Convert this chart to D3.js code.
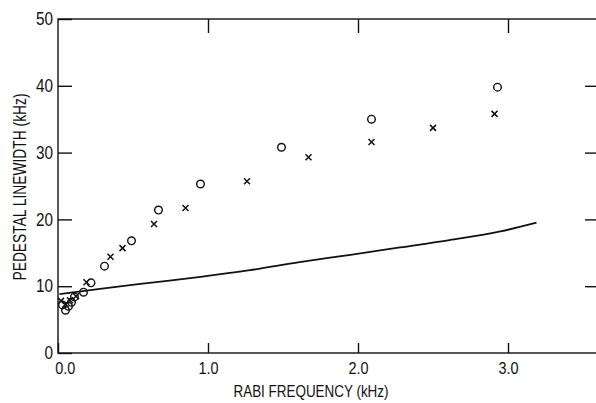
<!DOCTYPE html>
<html lang="en">
<head>
    <meta charset="UTF-8">
    <title>Pedestal linewidth vs Rabi frequency</title>
    <script src="https://cdn.jsdelivr.net/npm/d3@7"></script>
    <style>
        body { margin: 0; background: #fff; }
        text { font-family: "Liberation Sans", Arial, sans-serif; fill: #111; }
        .tick line { stroke: #111; stroke-width: 1.4; }
    </style>
</head>
<body>
    <svg id="svg" width="596" height="403"></svg>
    <script>
        // measured data (kHz)
        const circleX = [2.93, 2.09, 1.49, 0.95, 0.67, 0.49, 0.31, 0.22, 0.17, 0.11, 0.09, 0.07, 0.05, 0.03]
        const circleY = [39.8, 35.0, 30.8, 25.3, 21.4, 16.8, 13.0, 10.5, 9.1, 8.4, 7.6, 7.0, 6.4, 7.2]
        const crossX = [2.91, 2.50, 2.09, 1.67, 1.26, 0.85, 0.64, 0.43, 0.35, 0.19, 0.12, 0.08, 0.05, 0.02]
        const crossY = [35.8, 33.7, 31.6, 29.3, 25.7, 21.7, 19.3, 15.7, 14.4, 10.6, 8.5, 7.9, 7.3, 7.8]
        const theoryX = [0.01, 0.28, 0.61, 0.95, 1.28, 1.61, 1.95, 2.28, 2.61, 2.95, 3.19]
        const theoryY = [8.8, 9.6, 10.5, 11.4, 12.4, 13.6, 14.7, 15.8, 16.9, 18.2, 19.5]
        const xTicks = [0, 1, 2, 3]
        const yTicks = [0, 10, 20, 30, 40, 50]

        const svg = d3.select("#svg")
        const mLeft = 58, mTop = 19, mBottom = 353, mRight = 598

        const xScale = d3.scaleLinear().domain([0, 3.6]).range([mLeft, mRight])
        const yScale = d3.scaleLinear().domain([0, 50]).range([mBottom, mTop])

        // frame
        svg.append("rect")
            .attr("x", mLeft).attr("y", mTop)
            .attr("width", mRight - mLeft).attr("height", mBottom - mTop)
            .attr("fill", "none").attr("stroke", "#111").attr("stroke-width", 1.4)

        const xAxis = d3.axisBottom(xScale).tickValues(xTicks).tickFormat(d3.format(".1f"))
            .tickSizeInner(-10).tickSizeOuter(0).tickPadding(8)
        svg.append("g").attr("transform", `translate(0,${mBottom})`).call(xAxis)
            .call(g => g.selectAll("text").attr("font-size", 17).attr("y", 9)
                .attr("transform", "scale(0.85,1)"))
            .call(g => g.selectAll(".tick").filter(d => d === 0).select("text").attr("dx", 8))

        const yAxis = d3.axisLeft(yScale).tickValues(yTicks)
            .tickSizeInner(-14).tickSizeOuter(0).tickPadding(6)
        svg.append("g").attr("transform", `translate(${mLeft},0)`).call(yAxis)
            .call(g => g.selectAll("text").attr("font-size", 18).attr("transform", "scale(0.85,1)"))

        svg.append("g").attr("transform", `translate(0,${mTop})`)
            .call(d3.axisTop(xScale).tickValues(xTicks.slice(1)).tickFormat("").tickSizeInner(-14).tickSizeOuter(0))
        svg.append("g").attr("transform", `translate(${mRight},0)`)
            .call(d3.axisRight(yScale).tickValues(yTicks.slice(1, -1)).tickFormat("").tickSizeInner(-13).tickSizeOuter(0))

        svg.selectAll(".domain").remove()

        // axis titles
        svg.append("text").attr("x", 311).attr("y", 397)
            .attr("text-anchor", "middle").attr("font-size", 17)
            .attr("textLength", 155).attr("lengthAdjust", "spacingAndGlyphs")
            .text("RABI FREQUENCY (kHz)")
        svg.append("text").attr("transform", "translate(26,187) rotate(-90)")
            .attr("text-anchor", "middle").attr("font-size", 17.5)
            .attr("textLength", 187).attr("lengthAdjust", "spacingAndGlyphs")
            .text("PEDESTAL LINEWIDTH (kHz)")

        // theory curve
        const line = d3.line().x(d => xScale(d[0])).y(d => yScale(d[1])).curve(d3.curveMonotoneX)
        svg.append("path").datum(d3.zip(theoryX, theoryY))
            .attr("d", line).attr("fill", "none").attr("stroke", "#111").attr("stroke-width", 1.8)

        // circles
        svg.selectAll(".circ").data(d3.zip(circleX, circleY)).join("circle")
            .attr("class", "circ")
            .attr("cx", d => xScale(d[0])).attr("cy", d => yScale(d[1]))
            .attr("r", 3.8).attr("fill", "none").attr("stroke", "#111").attr("stroke-width", 1.4)

        // crosses
        svg.selectAll(".cross").data(d3.zip(crossX, crossY)).join("path")
            .attr("class", "cross")
            .attr("transform", d => `translate(${xScale(d[0])},${yScale(d[1])})`)
            .attr("d", "M-3,-3L3,3M-3,3L3,-3")
            .attr("stroke", "#111").attr("stroke-width", 1.5)
    </script>
</body>
</html>
